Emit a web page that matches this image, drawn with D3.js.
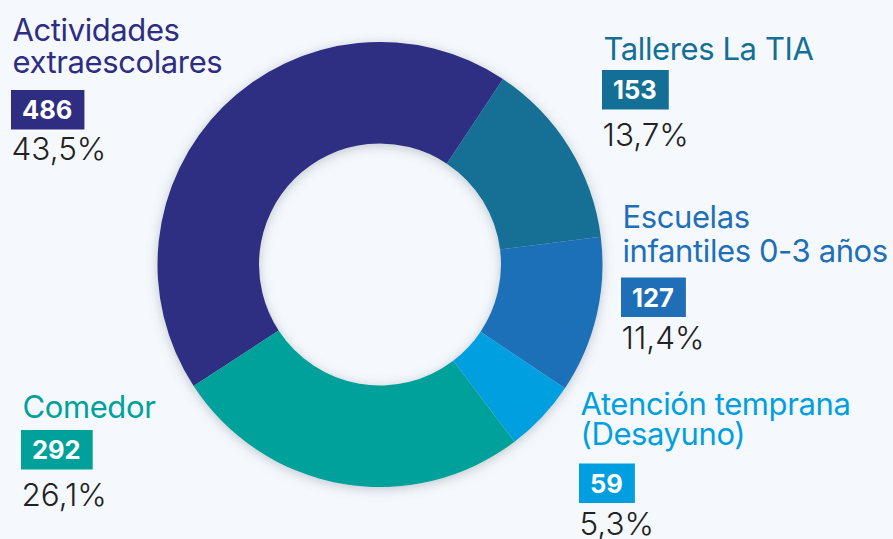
<!DOCTYPE html>
<html>
<head>
<meta charset="utf-8">
<script src="https://cdn.jsdelivr.net/npm/d3@7"></script>
<style>
  html, body { margin: 0; padding: 0; background: #f5f9fe; }
  svg { display: block; }
  text { font-family: Inter, "Noto Sans", sans-serif; }
</style>
</head>
<body>
<svg id="chart" width="893" height="539"></svg>
<script>
// Participantes por servicio
const categories = ["Actividades extraescolares", "Talleres La TIA", "Escuelas infantiles 0-3 años", "Atención temprana (Desayuno)", "Comedor"];
const labelLines = [["Actividades", "extraescolares"], ["Talleres La TIA"], ["Escuelas", "infantiles 0-3 años"], ["Atención temprana", "(Desayuno)"], ["Comedor"]];
const values = [486, 153, 127, 59, 292];
const percentLabels = ["43,5%", "13,7%", "11,4%", "5,3%", "26,1%"];
const colors = ["#2e2d82", "#146f96", "#1f6fb8", "#019fe0", "#00a19a"];

const W = 893, H = 539;
const cx = 380, cy = 264.5, outerR = 222.5, innerR = 121;

const svg = d3.select("#chart");

const defs = svg.append("defs");
const f = defs.append("filter").attr("id", "ringShadow")
  .attr("x", "-20%").attr("y", "-20%").attr("width", "140%").attr("height", "140%");
f.append("feDropShadow").attr("dx", 0).attr("dy", 2).attr("stdDeviation", 6)
  .attr("flood-color", "#5a6670").attr("flood-opacity", 0.35);

const pie = d3.pie().sort(null).value(d => d)
  .startAngle(-123.1 * Math.PI / 180)
  .endAngle((360 - 123.1) * Math.PI / 180);
const arcs = pie(values);
const arc = d3.arc().innerRadius(innerR).outerRadius(outerR);

const ring = svg.append("g").attr("transform", `translate(${cx},${cy})`)
  .attr("filter", "url(#ringShadow)");
ring.selectAll("path").data(arcs).join("path")
  .attr("d", arc)
  .attr("fill", (d, i) => colors[i]);

// Label blocks: name lines, value box, percentage
const layout = [
  { x: 11,  lines: [41, 73],    box: 90,    pct: 160 },
  { x: 602, lines: [59.5],      box: 70,    pct: 146 },
  { x: 621, lines: [227.5, 262], box: 277.5, pct: 348.5 },
  { x: 579, lines: [415, 445],  box: 463.5, pct: 535 },
  { x: 21,  lines: [417.5],     box: 430,   pct: 506 }
];

layout.forEach((a, i) => {
  const g = svg.append("g");
  labelLines[i].forEach((t, j) => {
    g.append("text")
      .attr("x", a.x + 1.5).attr("y", a.lines[j])
      .attr("fill", colors[i])
      .attr("font-size", 31)
      .attr("letter-spacing", -0.4)
      .text(t);
  });
  const rect = g.append("rect")
    .attr("x", a.x).attr("y", a.box)
    .attr("height", 39.5)
    .attr("fill", colors[i]);
  const num = g.append("text")
    .attr("x", a.x + 11).attr("y", a.box + 29)
    .attr("fill", "#ffffff")
    .attr("font-size", 25.5)
    .attr("font-weight", 700)
    .text(values[i]);
  rect.attr("width", num.node().getComputedTextLength() + 23);
  g.append("text")
    .attr("x", a.x + 0.5).attr("y", a.pct)
    .attr("fill", "#222222")
    .attr("font-size", 31.5)
    .attr("font-weight", 300)
    .text(percentLabels[i]);
});
</script>
</body>
</html>
